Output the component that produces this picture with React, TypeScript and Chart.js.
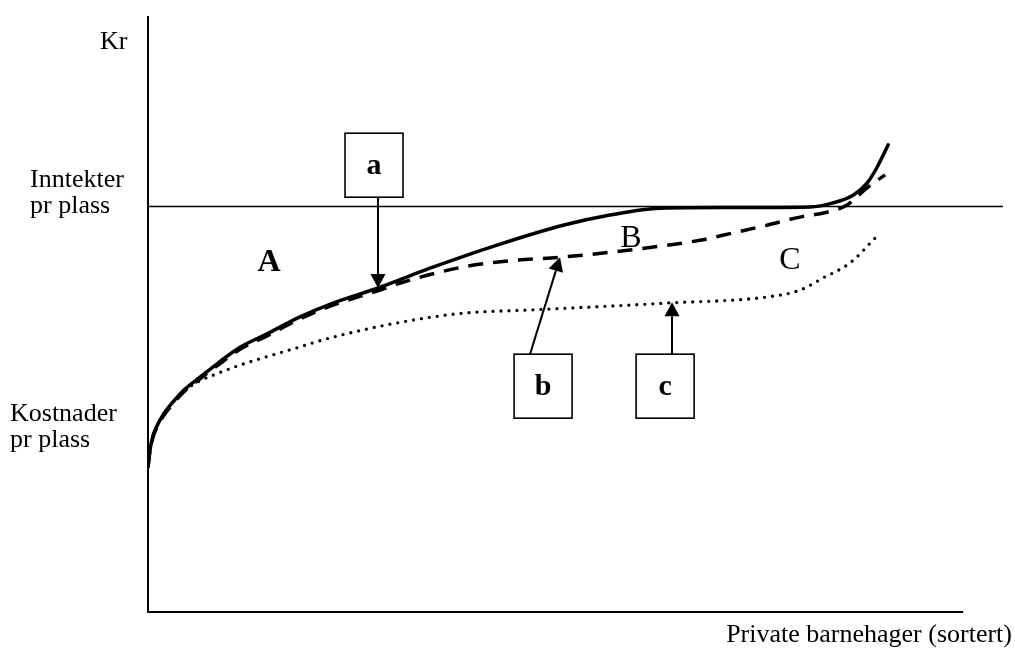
import { useEffect, useRef } from "react";
import { Chart, registerables } from "chart.js";

Chart.register(...registerables);

// ---- Data (schematic units: x = sorted kindergartens 0..100, y = kr) ----
const X_MAX = 106;
const Y_MAX = 147;
const X_AXIS_END = 100;
const INCOME_LEVEL = 100;
const INCOME_LINE_END = 104.9;

// Solid curve (a)
const solidX = [0, 0.25, 0.61, 1.1, 1.84, 2.94, 4.54, 6.38, 8.59, 11.29, 14.6, 18.65, 22.7, 28.47, 34.6, 42.82, 50.92, 56.69, 62.82, 71.04, 81.23, 84.05, 86.5, 88.22, 89.45, 90.8];
const solidY = [35.8, 40.0, 43.4, 45.9, 48.6, 51.5, 55.0, 57.9, 61.4, 65.3, 68.6, 72.8, 76.2, 80.1, 84.8, 90.5, 95.4, 97.9, 99.6, 99.75, 99.9, 100.9, 102.8, 105.8, 109.7, 115.2];

// Dashed curve (b)
const dashedX = [0, 0.25, 0.61, 1.1, 1.84, 2.94, 4.54, 6.38, 8.59, 11.29, 14.6, 18.65, 22.7, 28.47, 30.55, 38.65, 44.2, 50.55, 59.14, 67.73, 71.78, 75.95, 80.0, 83.31, 85.77, 88.22, 90.43];
const dashedY = [35.8, 39.8, 43.1, 45.5, 48.2, 51.1, 54.6, 57.5, 60.9, 64.8, 68.1, 72.3, 75.7, 79.4, 80.9, 85.1, 86.6, 87.5, 89.3, 91.7, 93.5, 95.4, 97.4, 98.6, 100.4, 104.6, 107.8];

// Dotted curve (c)
const dottedX = [0, 0.25, 0.61, 1.1, 1.84, 2.94, 4.54, 6.38, 7.98, 11.29, 18.65, 22.33, 30.55, 38.65, 46.87, 59.14, 63.68, 75.95, 80.0, 82.82, 86.13, 89.2];
const dottedY = [35.8, 40.0, 43.4, 45.9, 48.6, 51.5, 54.7, 57.0, 58.4, 60.9, 65.4, 67.6, 71.3, 73.7, 74.5, 75.7, 76.2, 77.7, 79.4, 82.4, 86.1, 92.2];

// Axis labels (left side)
const yLabelLines = [["Kr"], ["Inntekter", "pr plass"], ["Kostnader", "pr plass"]];
const yLabelValues = [138.8, 104.9, 47.1];
const yLabelLeft = [100, 30, 10];
const xTitle = "Private barnehager (sortert)";

// Region labels
const regionLabels = ["A", "B", "C"];
const regionX = [14.84, 59.26, 78.76];
const regionY = [86.1, 92.0, 86.6];
const regionBold = [true, false, false];

// Boxed callouts with arrows
const boxLabels = ["a", "b", "c"];
const boxX = [27.73, 48.47, 63.44];
const boxY = [110.2, 55.7, 55.7];
const arrowFromX = [28.22, 46.87, 64.29];
const arrowFromY = [102.3, 63.6, 63.6];
const arrowToX = [28.22, 50.55, 64.29];
const arrowToY = [79.9, 87.5, 76.4];

const FONT = '"Liberation Serif", "Times New Roman", serif';

const toPts = (xs: number[], ys: number[]) => xs.map((x, i) => ({ x, y: ys[i] }));

const schematicPlugin = {
  id: "schematic",
  beforeDatasetsDraw(chart: any) {
    const { ctx, scales } = chart;
    const xs = scales.x;
    const ys = scales.y;
    ctx.save();
    ctx.strokeStyle = "#000";
    ctx.lineWidth = 2;
    ctx.lineCap = "butt";
    ctx.beginPath();
    ctx.moveTo(xs.getPixelForValue(0), ys.getPixelForValue(Y_MAX));
    ctx.lineTo(xs.getPixelForValue(0), ys.getPixelForValue(0));
    ctx.lineTo(xs.getPixelForValue(X_AXIS_END), ys.getPixelForValue(0));
    ctx.stroke();
    ctx.restore();
  },
  afterDatasetsDraw(chart: any) {
    const { ctx, scales, chartArea } = chart;
    const xs = scales.x;
    const ys = scales.y;
    ctx.save();
    ctx.fillStyle = "#000";
    ctx.strokeStyle = "#000";

    // Y-side labels
    ctx.font = `26px ${FONT}`;
    ctx.textBaseline = "alphabetic";
    ctx.textAlign = "left";
    yLabelLines.forEach((lines, i) => {
      const base = ys.getPixelForValue(yLabelValues[i]);
      lines.forEach((t, j) => ctx.fillText(t, yLabelLeft[i], base + j * 26));
    });

    // X title
    ctx.textAlign = "right";
    ctx.fillText(xTitle, chartArea.right, chartArea.bottom + 30);

    // Region labels
    ctx.textAlign = "center";
    ctx.textBaseline = "middle";
    regionLabels.forEach((t, i) => {
      ctx.font = `${regionBold[i] ? "bold " : ""}32px ${FONT}`;
      ctx.fillText(t, xs.getPixelForValue(regionX[i]), ys.getPixelForValue(regionY[i]));
    });

    // Arrows
    ctx.lineWidth = 2;
    boxLabels.forEach((_, i) => {
      const x0 = xs.getPixelForValue(arrowFromX[i]);
      const y0 = ys.getPixelForValue(arrowFromY[i]);
      const x1 = xs.getPixelForValue(arrowToX[i]);
      const y1 = ys.getPixelForValue(arrowToY[i]);
      const ang = Math.atan2(y1 - y0, x1 - x0);
      const headLen = 14;
      const headHalf = 7.5;
      const bx = x1 - headLen * Math.cos(ang);
      const by = y1 - headLen * Math.sin(ang);
      ctx.beginPath();
      ctx.moveTo(x0, y0);
      ctx.lineTo(bx, by);
      ctx.stroke();
      ctx.beginPath();
      ctx.moveTo(x1, y1);
      ctx.lineTo(bx + headHalf * Math.sin(ang), by - headHalf * Math.cos(ang));
      ctx.lineTo(bx - headHalf * Math.sin(ang), by + headHalf * Math.cos(ang));
      ctx.closePath();
      ctx.fill();
    });

    // Boxes
    const bw = 58;
    const bh = 64;
    ctx.lineWidth = 1.6;
    ctx.font = `bold 30px ${FONT}`;
    boxLabels.forEach((t, i) => {
      const cx = xs.getPixelForValue(boxX[i]);
      const cy = ys.getPixelForValue(boxY[i]);
      ctx.fillStyle = "#fff";
      ctx.fillRect(cx - bw / 2, cy - bh / 2, bw, bh);
      ctx.strokeRect(cx - bw / 2, cy - bh / 2, bw, bh);
      ctx.fillStyle = "#000";
      ctx.textAlign = "center";
      ctx.textBaseline = "middle";
      ctx.fillText(t, cx, cy + 1);
    });
    ctx.restore();
  },
};

export default function App() {
  const ref = useRef<HTMLCanvasElement>(null);
  useEffect(() => {
    if (!ref.current) return;
    const chart = new Chart(ref.current, {
      type: "line",
      data: {
        datasets: [
          {
            label: "Inntekter",
            data: [
              { x: 0, y: INCOME_LEVEL },
              { x: INCOME_LINE_END, y: INCOME_LEVEL },
            ],
            borderColor: "#000",
            borderWidth: 1.5,
            pointRadius: 0,
            tension: 0,
          },
          {
            label: "c",
            data: toPts(dottedX, dottedY),
            borderColor: "#000",
            borderWidth: 3.3,
            borderDash: [0, 8],
            borderCapStyle: "round",
            pointRadius: 0,
            cubicInterpolationMode: "monotone",
          },
          {
            label: "b",
            data: toPts(dashedX, dashedY),
            borderColor: "#000",
            borderWidth: 3.5,
            borderDash: [15, 10],
            borderCapStyle: "butt",
            pointRadius: 0,
            cubicInterpolationMode: "monotone",
          },
          {
            label: "a",
            data: toPts(solidX, solidY),
            borderColor: "#000",
            borderWidth: 3.5,
            borderCapStyle: "round",
            borderJoinStyle: "round",
            pointRadius: 0,
            cubicInterpolationMode: "monotone",
          },
        ],
      },
      options: {
        responsive: false,
        animation: false,
        parsing: false as any,
        layout: { padding: { left: 148, right: 3, top: 16, bottom: 36 } },
        plugins: { legend: { display: false }, tooltip: { enabled: false } },
        scales: {
          x: { type: "linear", min: 0, max: X_MAX, display: false },
          y: { type: "linear", min: 0, max: Y_MAX, display: false },
        },
        elements: { point: { radius: 0 } },
      } as any,
      plugins: [schematicPlugin],
    });
    return () => chart.destroy();
  }, []);
  return (
    <div style={{ position: "fixed", left: 0, top: 0, width: 1015, height: 648, background: "#fff" }}>
      <canvas ref={ref} width={1015} height={648} style={{ display: "block" }} />
    </div>
  );
}
